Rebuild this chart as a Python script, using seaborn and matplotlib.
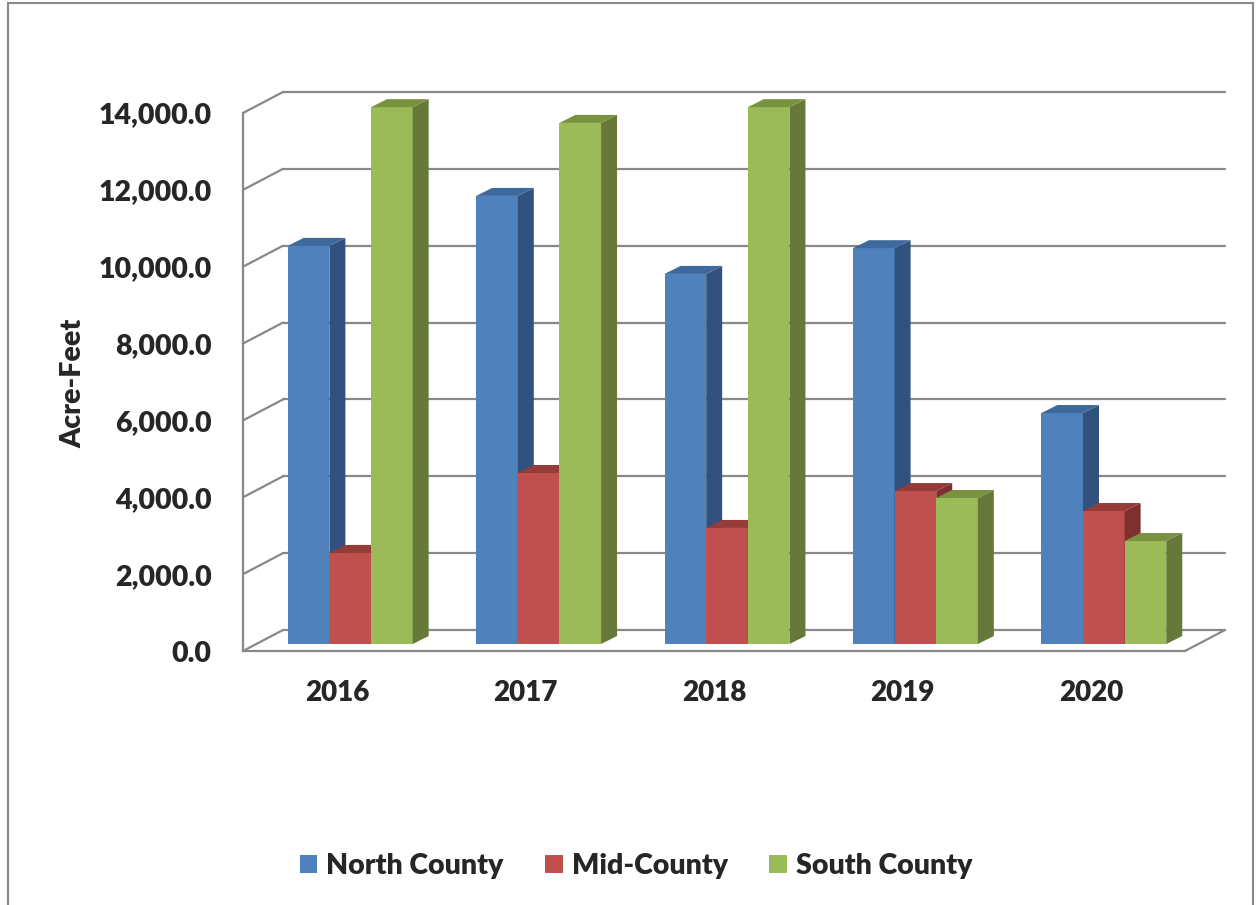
import numpy as np
import pandas as pd
import seaborn as sns
import matplotlib.pyplot as plt
from matplotlib.patches import Polygon, Rectangle
from matplotlib.lines import Line2D
from matplotlib.transforms import ScaledTranslation, IdentityTransform
from matplotlib.colors import to_hex

# ---- data -------------------------------------------------------------
years = ["2016", "2017", "2018", "2019", "2020"]
regions = ["North County", "Mid-County", "South County"]
north = [10360, 11660, 9630, 10300, 6010]
mid = [2370, 4450, 3020, 3980, 3460]
south = [13970, 13560, 13970, 3800, 2680]
y_ticks = [0, 2000, 4000, 6000, 8000, 10000, 12000, 14000]

front_colors = ["#4F81BD", "#C0504D", "#9BBB59"]
side_colors = ["#31527E", "#7E302E", "#66793A"]
top_colors = ["#3E699C", "#953B38", "#79923F"]
grid_color = "#888888"

# ---- figure geometry (pixels) ----------------------------------------
W, H, DPI = 1258, 905, 100
DX0, DY0 = 13, 7     # front plane -> bar front faces
BDX, BDY = 16, 8     # bar depth
WDX, WDY = 40, 21    # floor depth (front plane -> back wall)
TEXT_WEIGHT = "heavy"

sns.set_style("white")
plt.rcParams["font.family"] = ["Lato", "DejaVu Sans"]
plt.rcParams["font.weight"] = TEXT_WEIGHT

fig = plt.figure(figsize=(W / DPI, H / DPI), dpi=DPI)
fig.patch.set_facecolor("white")


def fx(px):
    return px / W


def fy(py):
    return 1 - py / H


ax = fig.add_axes([fx(243), fy(651), (1185 - 243) / W, (651 - 113) / H])
ax.patch.set_alpha(0)

df = pd.DataFrame({
    "Year": years * len(regions),
    "Region": np.repeat(regions, len(years)),
    "Acre-Feet": north + mid + south,
})

sns.barplot(data=df, x="Year", y="Acre-Feet", hue="Region", order=years,
            hue_order=regions, palette=front_colors, width=0.663,
            saturation=1, linewidth=0, errorbar=None, legend=False, ax=ax)

ax.set_xlim(-0.5, len(years) - 0.5)
ax.set_ylim(0, 14000)

# ---- 3-D faces for every bar ----------------------------------------
shift = ScaledTranslation(DX0 / DPI, DY0 / DPI, fig.dpi_scale_trans)
hex_front = [c.lower() for c in front_colors]
for p in list(ax.patches):
    k = hex_front.index(to_hex(p.get_facecolor()).lower())
    p.set_transform(ax.transData + shift)
    p.set_clip_on(False)
    p.set_zorder(3 + k)
    x0, w, h = p.get_x(), p.get_width(), p.get_height()
    l, b = ax.transData.transform((x0, 0))
    r, t = ax.transData.transform((x0 + w, h))
    l, r, b, t = l + DX0, r + DX0, b + DY0, t + DY0
    side = Polygon([(r, b), (r + BDX, b + BDY), (r + BDX, t + BDY), (r, t)],
                   closed=True, transform=IdentityTransform(),
                   facecolor=side_colors[k], edgecolor="none",
                   zorder=3 + k, clip_on=False)
    top = Polygon([(l, t), (l + BDX, t + BDY), (r + BDX, t + BDY), (r, t)],
                  closed=True, transform=IdentityTransform(),
                  facecolor=top_colors[k], edgecolor="none",
                  zorder=3 + k, clip_on=False)
    ax.add_artist(side)
    ax.add_artist(top)

# ---- back wall gridlines, side wall diagonals and floor --------------
xl, _ = ax.transData.transform((-0.5, 0))
xr, y0 = ax.transData.transform((len(years) - 0.5, 0))
for v in y_ticks:
    _, yv = ax.transData.transform((-0.5, v))
    ax.add_artist(Line2D([xl + WDX, xr + WDX], [yv + WDY, yv + WDY],
                         transform=IdentityTransform(), color=grid_color,
                         lw=1.6, zorder=1, clip_on=False))
    ax.add_artist(Line2D([xl, xl + WDX], [yv, yv + WDY],
                         transform=IdentityTransform(), color=grid_color,
                         lw=1.6, zorder=1, clip_on=False))
ax.add_artist(Line2D([xr, xr + WDX], [y0, y0 + WDY],
                     transform=IdentityTransform(), color=grid_color,
                     lw=1.6, zorder=1, clip_on=False))

# ---- axes, ticks and labels -----------------------------------------
for name, sp in ax.spines.items():
    if name in ("left", "bottom"):
        sp.set_visible(True)
        sp.set_color(grid_color)
        sp.set_linewidth(1.6)
    else:
        sp.set_visible(False)

ax.set_yticks(y_ticks)
ax.set_yticklabels([f"{v:,.1f}" for v in y_ticks])
ax.tick_params(axis="y", direction="out", length=6.5, width=1.3,
               color=grid_color, pad=16, labelsize=20.5)
ax.set_xticks(range(len(years)))
ax.set_xticklabels(years)
ax.set_xticks(np.arange(-0.5, len(years)), minor=True)
ax.tick_params(axis="x", which="major", length=0, pad=21, labelsize=20)
ax.tick_params(axis="x", which="minor", direction="out", length=6.5,
               width=1.3, color=grid_color)
for lab in ax.get_xticklabels() + ax.get_yticklabels():
    lab.set_fontweight(TEXT_WEIGHT)
ax.set_xlabel("")
ax.set_ylabel("")
ax.grid(False)

fig.text(fx(73), fy(383), "Acre-Feet", rotation=90, ha="center",
         va="center", fontsize=20.5, fontweight=TEXT_WEIGHT)

# ---- legend ----------------------------------------------------------
handles = [Rectangle((0, 0), 1, 1, facecolor=c, edgecolor="none")
           for c in front_colors]
fig.legend(handles, regions, loc="center", bbox_to_anchor=(fx(636), fy(866)),
           ncol=3, frameon=False, handlelength=0.62, handleheight=0.62,
           handletextpad=0.32, columnspacing=1.45,
           prop={"size": 20.5, "weight": TEXT_WEIGHT})

# ---- outer chart border ---------------------------------------------
fig.add_artist(Rectangle((fx(7.5), fy(915)), (1252.5 - 7.5) / W,
                         (915 - 3.5) / H, transform=fig.transFigure,
                         fill=False, edgecolor="#898989", linewidth=1.5))

fig.savefig("out.png", dpi=DPI)
